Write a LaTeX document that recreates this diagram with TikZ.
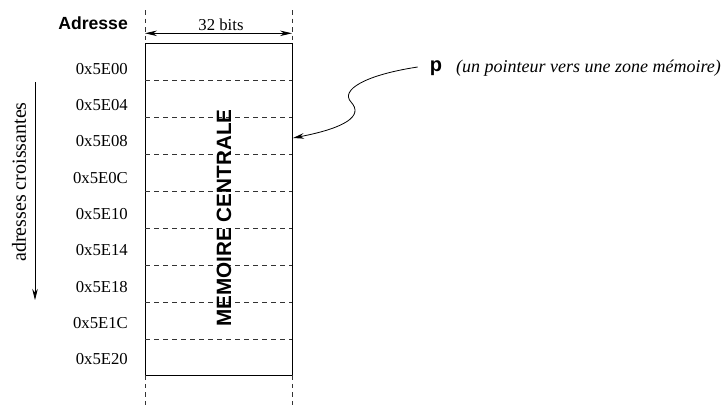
\documentclass[tikz,border=0pt]{standalone}
\usepackage{fontspec}
\setmainfont{Liberation Serif}
\setsansfont{Liberation Sans}
\usetikzlibrary{arrows.meta}
\tikzset{
  addr/.style={anchor=east,inner sep=0pt,font=\fontsize{16.7}{18}\selectfont},
  sep/.style={dash pattern=on 4.5pt off 4.5pt,line width=0.8pt,black!80},
  ext/.style={dash pattern=on 4.5pt off 4pt,line width=0.8pt,black!80},
  tip/.style={-{Stealth[length=11pt,width=5.5pt]},line width=0.8pt}
}
\begin{document}
\begin{tikzpicture}[x=1pt,y=-1pt]
\useasboundingbox (0,0) rectangle (726,407);
% box
\draw[line width=0.9pt] (145,43.3) rectangle (292,375.3);
\foreach \yy in {80.3,117.3,154.3,191.3,228.3,265.3,302.3,339.3}
  \draw[sep] (145,\yy) -- (292,\yy);
% extensions
\draw[ext] (145,10) -- (145,43.3);
\draw[ext] (292,10) -- (292,43.3);
\draw[ext] (145,375.3) -- (145,407);
\draw[ext] (292,375.3) -- (292,407);
% 32 bits
\coordinate (wl) at (145,33.3);
\coordinate (wr) at (292,33.3);
\draw[{Stealth[length=12pt,width=5.5pt]}-{Stealth[length=12pt,width=5.5pt]},line width=0.8pt] (wl) -- (wr);
\node[anchor=base,inner sep=0pt,font=\fontsize{16.7}{18}\selectfont] (bits) at (221,30) {32 bits};
% Adresse
\node[anchor=east,inner sep=0pt,font=\sffamily\bfseries\fontsize{17.6}{20}\selectfont] (adr) at (128,23) {Adresse};
% addresses
\foreach \lab [count=\i from 0] in {0x5E00,0x5E04,0x5E08,0x5E0C,0x5E10,0x5E14,0x5E18,0x5E1C,0x5E20}
  \node[addr] (a\i) at (128,{68.7+\i*36.35}) {\lab};
% croissantes
\coordinate (ct) at (35,82);
\coordinate (cb) at (35,300);
\draw[tip] (ct) -- (cb);
\node[rotate=90,inner sep=0pt,font=\fontsize{20}{22}\selectfont] (cr) at (19,182) {adresses croissantes};
% memoire
\node[rotate=90,inner sep=0pt,font=\sffamily\bfseries\fontsize{20.7}{22}\selectfont] (mem) at (224,218) {MEMOIRE CENTRALE};
% pointer
\node[inner sep=0pt,font=\sffamily\bfseries\fontsize{20}{22}\selectfont] (p) at (436,68) {p};
\node[anchor=west,inner sep=0pt,font=\itshape\fontsize{18}{20}\selectfont] (pl) at (456,68) {(un pointeur vers une zone mémoire)};
\coordinate (pt) at (293,138);
\draw[tip] ([xshift=-12pt,yshift=1pt]p.west) .. controls (365,75) and (340,90) .. (351,102) .. controls (364,116) and (345,128) .. (pt);
\end{tikzpicture}
\end{document}
